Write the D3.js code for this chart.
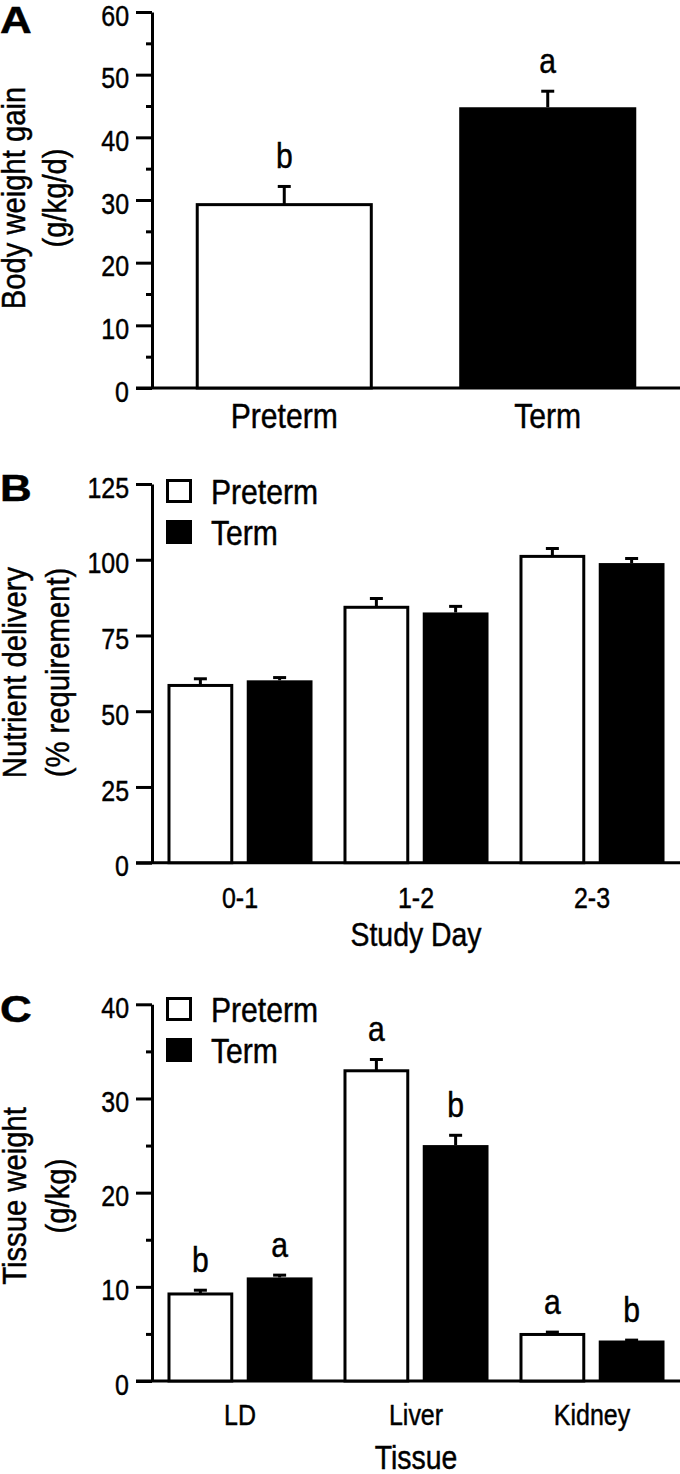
<!DOCTYPE html>
<html><head><meta charset="utf-8">
<script src="https://cdn.jsdelivr.net/npm/d3@7"></script>
<style>
body{margin:0;background:#fff;}
svg{display:block;font-family:"Liberation Sans",Arial,Helvetica,sans-serif;}
svg text{stroke:#000;stroke-width:0.45px;fill:#000;}
</style></head>
<body>
<script>
// ---- data ----
const groups = ["Preterm", "Term"];

const catsA = ["Preterm", "Term"];
const meanA = [29.5, 44.8];
const semA = [2.9, 2.8];
const sigA = ["b", "a"];
const ticksA = [0, 10, 20, 30, 40, 50, 60];
const minorA = [5, 15, 25, 35, 45, 55];

const days = ["0-1", "1-2", "2-3"];
const pretermB = [59.0, 84.8, 101.6];
const pretermSemB = [2.2, 2.9, 2.6];
const termB = [60.2, 82.6, 98.9];
const termSemB = [1.4, 2.5, 2.0];
const ticksB = [0, 25, 50, 75, 100, 125];

const tissues = ["LD", "Liver", "Kidney"];
const pretermC = [9.4, 33.1, 5.1];
const pretermSemC = [0.4, 1.2, 0.25];
const termC = [11.0, 25.05, 4.3];
const termSemC = [0.4, 1.2, 0.2];
const sigPretermC = ["b", "a", "a"];
const sigTermC = ["a", "b", "b"];
const ticksC = [0, 10, 20, 30, 40];
const minorC = [5, 15, 25, 35];

// ---- layout ----
const W = 680, H = 1474;
const svg = d3.select("body").append("svg").attr("width", W).attr("height", H);
const AX = 152, XR = 680, SW = 3;
const fills = {Preterm: "#fff", Term: "#000"};

function yAxis(g, y, major, minor) {
  const ax = g.append("g").attr("transform", `translate(${AX},0)`)
    .call(d3.axisLeft(y).tickValues(major).tickSize(16).tickSizeOuter(0).tickPadding(7));
  ax.select(".domain").attr("stroke-width", SW);
  ax.selectAll(".tick line").attr("stroke-width", SW);
  ax.selectAll(".tick text").attr("font-size", 29).attr("dy", "0.45em").attr("font-family", null);
  if (minor) {
    const mx = g.append("g").attr("transform", `translate(${AX},0)`)
      .call(d3.axisLeft(y).tickValues(minor).tickSize(6).tickSizeOuter(0).tickFormat(""));
    mx.select(".domain").remove();
    mx.selectAll(".tick line").attr("stroke-width", SW);
  }
  g.append("line").attr("x1", AX - 16).attr("x2", XR)
    .attr("y1", y(0)).attr("y2", y(0)).attr("stroke", "#000").attr("stroke-width", SW);
}

function bar(g, x0, w, y, v, e, grp) {
  const white = grp === "Preterm";
  const top = y(v) + (white ? SW / 2 : 0);
  const cx = x0 + w / 2;
  const et = y(v + e);
  g.append("line").attr("x1", cx).attr("x2", cx).attr("y1", top).attr("y2", et + SW / 2)
    .attr("stroke", "#000").attr("stroke-width", SW);
  g.append("line").attr("x1", cx - 6.5).attr("x2", cx + 6.5).attr("y1", et + SW / 2).attr("y2", et + SW / 2)
    .attr("stroke", "#000").attr("stroke-width", SW);
  if (white) {
    g.append("rect").attr("x", x0 + SW / 2).attr("y", top).attr("width", w - SW)
      .attr("height", y(0) - top).attr("fill", "#fff").attr("stroke", "#000").attr("stroke-width", SW);
  } else {
    g.append("rect").attr("x", x0).attr("y", top).attr("width", w)
      .attr("height", y(0) - top).attr("fill", "#000");
  }
  return {cx, et};
}

function sigLabel(g, cx, et, t) {
  g.append("text").attr("x", cx).attr("y", et - 17).attr("text-anchor", "middle")
    .attr("font-size", 35).text(t);
}

function yTitle(g, cy, l1, l2, b1, b2) {
  g.append("text").attr("transform", `translate(${b1},${cy}) rotate(-90)`)
    .attr("text-anchor", "middle").attr("font-size", 34).text(l1);
  g.append("text").attr("transform", `translate(${b2},${cy}) rotate(-90)`)
    .attr("text-anchor", "middle").attr("font-size", 34).text(l2);
}

function panelLetter(g, t, yb) {
  g.append("text").attr("class", "wide").attr("x", 0).attr("y", yb)
    .attr("font-size", 36).attr("font-weight", "bold").text(t);
}

function legend(g, yTop) {
  groups.forEach((grp, i) => {
    const yy = yTop + i * 41;
    const white = grp === "Preterm";
    g.append("rect").attr("x", 166 + (white ? SW / 2 : 0)).attr("y", yy + (white ? SW / 2 : 0))
      .attr("width", white ? 26 - SW : 26).attr("height", white ? 24 - SW : 24)
      .attr("fill", fills[grp]).attr("stroke", white ? "#000" : "none").attr("stroke-width", SW);
    g.append("text").attr("x", 211).attr("y", yy + 25).attr("font-size", 35).text(grp);
  });
}

// ---- Panel A ----
{
  const g = svg.append("g");
  const y = d3.scaleLinear().domain([0, 60]).range([388, 12]);
  const x = d3.scaleBand().domain(catsA).range([AX, XR]).paddingInner(0.328).paddingOuter(0.166);
  yAxis(g, y, ticksA, minorA);
  catsA.forEach((c, i) => {
    const r = bar(g, x(c), x.bandwidth(), y, meanA[i], semA[i], c);
    sigLabel(g, r.cx, r.et, sigA[i]);
    g.append("text").attr("x", r.cx).attr("y", 428).attr("text-anchor", "middle").attr("font-size", 35).text(c);
  });
  yTitle(g, 198, "Body weight gain", "(g/kg/d)", 25, 66);
  panelLetter(g, "A", 33);
}

// ---- grouped panels ----
function grouped(opts) {
  const g = svg.append("g");
  const y = d3.scaleLinear().domain([0, opts.max]).range([opts.y0, opts.y1]);
  const x0 = d3.scaleBand().domain(opts.cats).range([AX, XR]).paddingInner(0.176).paddingOuter(0.088);
  const x1 = d3.scaleBand().domain(groups).range([0, x0.bandwidth()]).paddingInner(0.17).paddingOuter(0);
  yAxis(g, y, opts.ticks, opts.minor);
  opts.cats.forEach((c, i) => {
    groups.forEach((grp, j) => {
      const v = j === 0 ? opts.pre[i] : opts.term[i];
      const e = j === 0 ? opts.preSem[i] : opts.termSem[i];
      const r = bar(g, x0(c) + x1(grp), x1.bandwidth(), y, v, e, grp);
      if (opts.sig) sigLabel(g, r.cx, r.et, opts.sig[j][i]);
    });
    g.append("text").attr("x", x0(c) + x0.bandwidth() / 2).attr("y", opts.catY)
      .attr("text-anchor", "middle").attr("font-size", 29).text(c);
  });
  const mid = opts.cats[1];
  g.append("text").attr("x", x0(mid) + x0.bandwidth() / 2).attr("y", opts.titleY)
    .attr("text-anchor", "middle").attr("font-size", 33).text(opts.xTitle);
  legend(g, opts.legY);
  yTitle(g, opts.cy, opts.t1, opts.t2, 26, 69);
  panelLetter(g, opts.letter, opts.letterY);
}

grouped({max: 125, y0: 862.7, y1: 484, cats: days, pre: pretermB, preSem: pretermSemB,
  term: termB, termSem: termSemB, ticks: ticksB, minor: null, catY: 908, titleY: 946,
  xTitle: "Study Day", legY: 479, cy: 672.5, t1: "Nutrient delivery", t2: "(% requirement)",
  letter: "B", letterY: 501});

grouped({max: 40, y0: 1381, y1: 1004.3, cats: tissues, pre: pretermC, preSem: pretermSemC,
  term: termC, termSem: termSemC, ticks: ticksC, minor: minorC, catY: 1425, titleY: 1469,
  xTitle: "Tissue", legY: 997, cy: 1196, t1: "Tissue weight", t2: "(g/kg)",
  letter: "C", letterY: 1022, sig: [sigPretermC, sigTermC]});

// condense text horizontally to match the narrow face of the original; widen panel letters
svg.selectAll("text").each(function () {
  const w = this.getComputedTextLength();
  if (w <= 0) return;
  const k = this.classList.contains("wide") ? 1.22 : 0.86;
  d3.select(this).attr("textLength", w * k).attr("lengthAdjust", "spacingAndGlyphs");
});
</script>
</body></html>
